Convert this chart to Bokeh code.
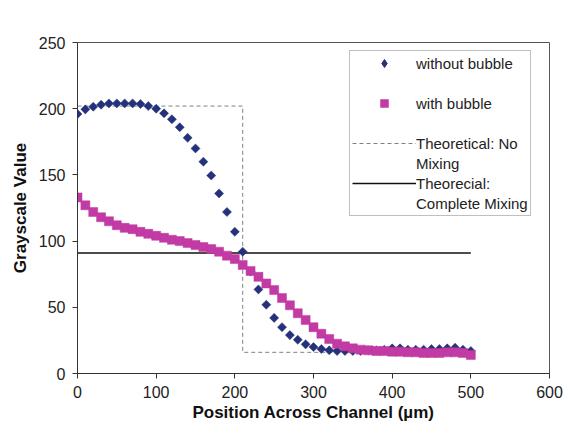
from bokeh.plotting import figure
from bokeh.models import Range1d, FixedTicker, Legend, LegendItem, Label, ColumnDataSource
from bokeh.embed import file_html
from bokeh.resources import INLINE

# Position across the channel (µm)
position = [0, 10, 20, 30, 40, 50, 60, 70, 80, 90,
            100, 110, 120, 130, 140, 150, 160, 170, 180, 190,
            200, 210, 220, 230, 240, 250, 260, 270, 280, 290,
            300, 310, 320, 330, 340, 350, 360, 370, 380, 390,
            400, 410, 420, 430, 440, 450, 460, 470, 480, 490, 500]

# Grayscale profile without bubble
without_bubble = [196, 199.5, 201.5, 203, 204, 204, 204, 204, 203.5, 202,
                  200, 196.5, 192, 186, 178, 170, 160, 149.5, 136, 122,
                  107, 92, 77, 63.5, 52, 42, 35, 29, 25.5, 22,
                  20, 18.5, 17.5, 17, 17, 17, 17, 17.5, 17.5, 18,
                  19, 19, 18, 18, 18, 18.5, 18.5, 19, 19.5, 18, 17]

# Grayscale profile with bubble
with_bubble = [133, 127, 122, 118, 115, 112, 110, 109, 107, 105.5,
               104, 102.5, 101, 100, 98.5, 97, 95.5, 94, 92, 89,
               86.5, 82, 77.5, 73, 68, 63, 57, 51.5, 45.5, 40.5,
               35, 30, 26, 22.5, 20.5, 19, 18, 17.5, 17, 17,
               16.5, 16.5, 16, 16, 15.5, 15.5, 15.5, 16, 16, 15.5, 14]

# Theoretical limits
no_mix_x = [0, 210, 210, 500]
no_mix_y = [202, 202, 16, 16]
full_mix_x = [0, 500]
full_mix_y = [91, 91]

x_ticks = [0, 100, 200, 300, 400, 500, 600]
y_ticks = [0, 50, 100, 150, 200, 250]

FONT = "Liberation Sans"
NAVY = "#25317A"
MAGENTA = "#C23AA3"

p = figure(width=565, height=429, output_backend="svg", toolbar_location=None,
           x_range=Range1d(0, 600), y_range=Range1d(0, 250),
           min_border_left=77, min_border_right=16, min_border_top=42,
           min_border_bottom=56)

p.xgrid.visible = False
p.ygrid.visible = False
p.outline_line_color = "#555555"
p.outline_line_width = 1

for ax in (p.xaxis[0], p.yaxis[0]):
    ax.axis_line_color = "#333333"
    ax.major_tick_line_color = "#333333"
    ax.major_tick_out = 5
    ax.major_tick_in = 0
    ax.minor_tick_out = 0
    ax.minor_tick_in = 0
    ax.major_label_text_font = FONT
    ax.major_label_text_font_size = "16px"
    ax.major_label_text_color = "#222222"
    ax.axis_label_text_font = FONT
    ax.axis_label_text_font_size = "17px"
    ax.axis_label_text_font_style = "bold"
    ax.axis_label_text_color = "#111111"

p.xaxis.ticker = FixedTicker(ticks=x_ticks)
p.yaxis.ticker = FixedTicker(ticks=y_ticks)
p.xaxis.axis_label = "Position Across Channel (µm)"
p.yaxis.axis_label = "Grayscale Value"
p.xaxis.major_label_standoff = 7
p.yaxis.major_label_standoff = 7
p.xaxis.axis_label_standoff = 2
p.yaxis.axis_label_standoff = 6

r_nomix = p.line(no_mix_x, no_mix_y, line_color="#808080", line_width=1,
                 line_dash="4 3")
r_full = p.line(full_mix_x, full_mix_y, line_color="#111111", line_width=1.5)

src = ColumnDataSource(dict(x=position, wo=without_bubble, w=with_bubble))
# diamonds drawn as squares turned by 45 degrees
r_wo = p.scatter("x", "wo", source=src, marker="square", angle=0.785398,
                 size=6.4, fill_color=NAVY, line_color=NAVY, line_width=0.5)
r_w = p.scatter("x", "w", source=src, marker="square", size=9,
                fill_color=MAGENTA, line_color=MAGENTA, line_width=0.5)

# hidden renderer that only supplies the diamond key of the legend,
# plus a blank key for spacer / continuation rows
key_wo = p.scatter("x", "wo", source=src, marker="diamond", size=11,
                   fill_color=NAVY, line_color=NAVY, visible=False)
blank = p.line([], [], line_alpha=0)

legend = Legend(items=[
    LegendItem(label="without bubble", renderers=[key_wo]),
    LegendItem(label=" ", renderers=[blank]),
    LegendItem(label="with bubble", renderers=[r_w]),
    LegendItem(label=" ", renderers=[blank]),
    LegendItem(label="Theoretical: No", renderers=[r_nomix]),
    LegendItem(label="Mixing", renderers=[blank]),
    LegendItem(label="Theorecial:", renderers=[r_full]),
    LegendItem(label="Complete Mixing", renderers=[blank]),
], location=(272, 157))
legend.label_text_font = FONT
legend.label_text_font_size = "15px"
legend.label_text_color = "#222222"
legend.glyph_width = 64
legend.glyph_height = 20
legend.label_height = 20
legend.label_standoff = 0
legend.spacing = 0
legend.padding = 2
legend.margin = 0
legend.inactive_fill_alpha = 0
legend.border_line_color = "#808080"
legend.border_line_width = 1
p.add_layout(legend)

title = Label(x=217, y=345, x_units="screen", y_units="screen",
              text="Mixing Profile", text_align="center",
              text_baseline="alphabetic", text_font=FONT,
              text_font_size="16.5px", text_font_style="bold",
              text_color="#111111")
p.add_layout(title)

open("out.html", "w").write(file_html(p, INLINE))
